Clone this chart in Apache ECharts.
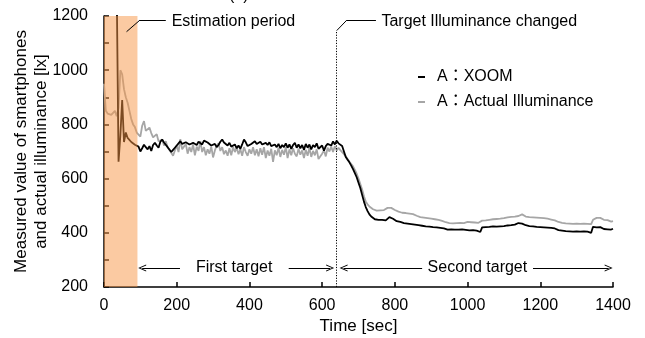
<!DOCTYPE html>
<html><head><meta charset="utf-8">
<script src="https://cdn.jsdelivr.net/npm/echarts@6/dist/echarts.min.js"></script>
<style>html,body{margin:0;padding:0;background:#fff}#c{width:645px;height:338px}</style>
</head><body><div id="c"></div>
<script>
// sampling step of the readings below (seconds)
const TIME_STEP = 5;

// A: XOOM (smartphone reading), one value every 5 s from t = 0
const xoom = [
  null,null,null,null,null,null,null,1300,662,760,890,735,770,750,745,735,740,725,730,718,
  700,712,725,716,708,720,702,724,732,722,714,736,744,733,728,716,710,698,706,714,
  722,730,738,728,724,734,738,726,720,732,728,724,736,738,726,740,744,733,728,722,
  718,728,716,724,736,744,733,726,722,732,718,716,726,712,722,710,726,744,734,720,
  716,728,734,738,728,726,736,726,722,732,724,734,720,714,726,716,728,712,724,716,
  730,714,726,710,724,732,714,726,712,724,706,728,714,726,708,724,716,730,710,704,
  722,703,720,728,732,722,737,726,740,730,728,720,700,680,670,660,648,635,620,605,
  585,565,540,515,495,480,468,460,454,450,447,448,445,448,450,446,452,458,455,452,
  447,443,441,440,438,436,437,434,436,432,433,430,431,428,429,426,427,424,422,423,
  420,421,418,420,417,418,415,416,410,412,408,413,410,412,409,412,410,413,408,411,
  412,409,413,410,412,408,406,403,420,423,421,425,422,426,424,428,423,426,424,428,
  425,423,427,424,428,426,430,432,436,440,434,430,428,430,425,428,424,426,422,425,
  421,424,420,423,419,422,418,421,416,418,410,412,408,410,406,409,405,408,404,407,
  405,408,404,407,405,408,404,403,400,422,425,420,418,421,417,414,418,413,416,412,415
];

// A: Actual Illuminance, one value every 5 s from t = 0
const actual = [
  950,850,840,845,835,840,850,830,860,1000,985,930,900,880,850,820,800,790,770,775,
  755,795,812,776,770,788,768,752,746,764,738,740,744,722,738,716,706,712,684,704,
  722,698,746,708,702,728,692,716,698,726,686,718,702,738,698,716,686,708,692,718,
  678,704,722,730,702,716,690,704,684,712,686,716,698,714,690,708,684,716,698,684,
  708,692,716,686,708,682,712,688,716,676,704,684,710,662,704,686,714,680,706,688,
  716,676,708,686,712,692,682,710,688,704,676,706,684,714,680,702,686,708,672,666,
  692,704,682,714,700,718,698,720,704,714,705,700,690,682,672,662,655,645,632,618,
  600,580,560,535,515,505,497,492,487,484,482,485,483,486,484,488,492,496,492,489,
  484,480,478,476,474,472,473,470,471,468,469,465,463,460,458,459,456,457,454,455,
  452,453,450,451,448,447,444,442,439,441,436,438,435,437,436,438,437,439,436,438,
  440,437,439,436,438,435,437,434,445,447,446,450,448,452,450,453,451,454,452,456,
  454,455,457,455,459,457,460,458,462,466,468,463,460,462,458,460,457,459,456,458,
  455,457,454,456,452,454,449,451,446,445,440,442,437,439,435,438,434,437,433,436,
  434,437,433,436,434,437,433,435,432,448,452,455,452,455,450,448,445,447,443,441,443
];

const seriesNames = ['A\uFF1AXOOM', 'A\uFF1AActual Illuminance'];
const estimationPeriod = [0, 92];     // seconds
const targetChangeTime = 640;          // seconds
const phaseLabels = ['First target', 'Second target'];
const annotationTexts = ['Estimation period', 'Target Illuminance changed'];

const times = xoom.map((_, i) => i * TIME_STEP);
const toPairs = vals => vals.map((v, i) => [times[i], v]);

const FONT = 'Liberation Sans, Arial, "Noto Sans CJK JP", sans-serif';
const chevron = 'path://M5,0 L10,10 L8.6,10 L5,2.6 L1.4,10 L0,10 Z';
const blackLine = { color: '#000', width: 1, type: 'solid' };

const chart = echarts.init(document.getElementById('c'), null, { renderer: 'canvas' });
chart.setOption({
  animation: false,
  textStyle: { fontFamily: FONT },
  graphic: [{ type: 'text', left: 229, top: -12, style: { text: '(a)', font: '16px ' + FONT, fill: '#000' } }],
  grid: { left: 104, right: 32, top: 16, bottom: 51, containLabel: false, outerBoundsMode: 'none' },
  legend: {
    orient: 'vertical', left: 413, top: 64, itemWidth: 7, itemHeight: 2, itemGap: 9,
    textStyle: { fontSize: 16, color: '#000', fontFamily: FONT, padding: [0, 0, 0, 7] },
    data: [{ name: seriesNames[0], icon: 'rect' }, { name: seriesNames[1], icon: 'rect' }]
  },
  xAxis: {
    type: 'value', min: 0, max: 1400, interval: 200,
    name: 'Time [sec]', nameLocation: 'middle', nameGap: 31, nameMoveOverlap: false,
    nameTextStyle: { fontSize: 17, color: '#000', fontFamily: FONT },
    axisLine: { lineStyle: { color: '#000', width: 1.5 } },
    axisTick: { inside: true, length: 5, lineStyle: { color: '#000', width: 1.5 } },
    axisLabel: { fontSize: 16, color: '#000', margin: 11, fontFamily: FONT, formatter: v => String(v) },
    splitLine: { show: false }
  },
  yAxis: {
    type: 'value', min: 200, max: 1200, interval: 100,
    name: 'Measured value of smartphones\nand actual illuminance [lx]',
    nameLocation: 'middle', nameGap: 53, nameMoveOverlap: false,
    nameTextStyle: { fontSize: 17, color: '#000', lineHeight: 20, fontFamily: FONT },
    axisLine: { show: true, lineStyle: { color: '#000', width: 1.5 } },
    axisTick: { show: true, inside: true, length: 5, lineStyle: { color: '#000', width: 1.5 } },
    axisLabel: { fontSize: 16, color: '#000', margin: 16, fontFamily: FONT,
      formatter: v => (v % 200 === 0 ? String(v) : '') },
    splitLine: { show: false }
  },
  series: [
    {
      name: seriesNames[1], type: 'line', data: toPairs(actual), showSymbol: false, z: 2,
      lineStyle: { color: '#a6a6a6', width: 1.8 }, itemStyle: { color: '#a6a6a6' }
    },
    {
      name: seriesNames[0], type: 'line', data: toPairs(xoom), showSymbol: false, z: 3,
      lineStyle: { color: '#000', width: 1.8 }, itemStyle: { color: '#000' }
    },
    {
      name: 'annotations', type: 'line', data: [], z: 10, silent: true,
      markArea: {
        silent: true, z: 10,
        itemStyle: { color: 'rgba(247,150,70,0.5)' },
        data: [[{ xAxis: estimationPeriod[0], yAxis: 200 }, { xAxis: estimationPeriod[1], yAxis: 1200 }]]
      },
      markLine: {
        silent: true, symbol: 'none', animation: false, z: 11,
        label: { show: false },
        lineStyle: blackLine,
        data: [
          [{ coord: [targetChangeTime, 200], lineStyle: { color: '#000', width: 1, type: [1.2, 1.5] } },
           { coord: [targetChangeTime, 1146] }],
          [{ coord: [62, 1142] }, { coord: [99, 1185] }],
          [{ coord: [99, 1185] }, { coord: [170, 1185] }],
          [{ coord: [targetChangeTime, 1146] }, { coord: [668, 1185] }],
          [{ coord: [668, 1185] }, { coord: [748, 1185] }],
          [{ coord: [105, 270], symbol: chevron, symbolSize: [7, 8] }, { coord: [209, 270], symbol: 'none' }],
          [{ coord: [508, 270], symbol: 'none' }, { coord: [622, 270], symbol: chevron, symbolSize: [7, 8] }],
          [{ coord: [659, 270], symbol: chevron, symbolSize: [7, 8] }, { coord: [875, 270], symbol: 'none' }],
          [{ coord: [1180, 270], symbol: 'none' }, { coord: [1388, 270], symbol: chevron, symbolSize: [7, 8] }]
        ]
      },
      markPoint: {
        silent: true, symbol: 'circle', symbolSize: 0, animation: false, z: 11,
        label: { show: true, color: '#000', fontSize: 16, fontFamily: FONT },
        data: [
          { coord: [175, 1180], label: { position: 'right', distance: 4, formatter: annotationTexts[0] } },
          { coord: [752, 1180], label: { position: 'right', distance: 4, formatter: annotationTexts[1] } },
          { coord: [358, 270], label: { position: 'inside', formatter: phaseLabels[0] } },
          { coord: [1027, 270], label: { position: 'inside', formatter: phaseLabels[1] } }
        ]
      }
    }
  ]
});
</script>
</body></html>
